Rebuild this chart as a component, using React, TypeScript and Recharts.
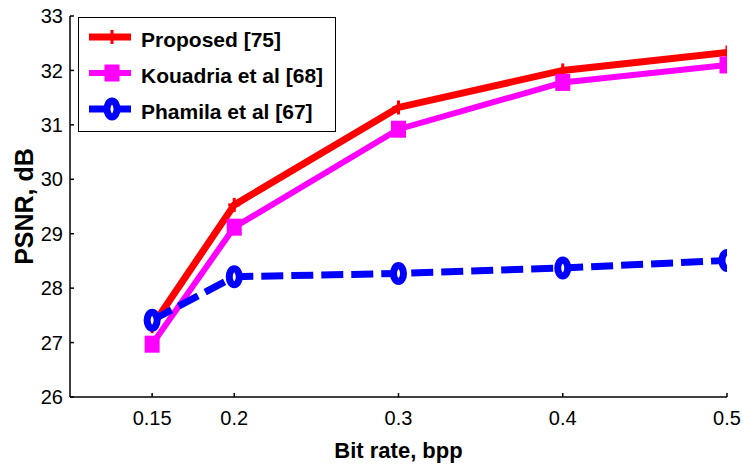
import React from 'react';
import { LineChart, Line, XAxis, YAxis, Legend } from 'recharts';

const bitRate = [0.15, 0.2, 0.3, 0.4, 0.5];
const proposed = [27.3, 29.53, 31.32, 32.0, 32.33];
const kouadria = [26.97, 29.12, 30.92, 31.78, 32.1];
const phamila = [27.41, 28.21, 28.27, 28.37, 28.51];
const yTicks = [26, 27, 28, 29, 30, 31, 32, 33];
const seriesOrder = ['proposed', 'kouadria', 'phamila'];

const data = bitRate.map((x, i) => ({
  x,
  proposed: proposed[i],
  kouadria: kouadria[i],
  phamila: phamila[i],
}));

const FONT = '"Liberation Sans", Arial, sans-serif';
const RED = '#ff0000';
const MAGENTA = '#ff00ff';
const BLUE = '#0000ff';

function Marker({ kind, cx, cy }: { kind: string; cx: number; cy: number }) {
  if (kind === 'plus') {
    return (
      <g>
        <line x1={cx - 6} y1={cy} x2={cx + 6} y2={cy} stroke={RED} strokeWidth={3} />
        <line x1={cx} y1={cy - 7} x2={cx} y2={cy + 7} stroke={RED} strokeWidth={3} />
      </g>
    );
  }
  if (kind === 'square') {
    return <rect x={cx - 7.5} y={cy - 8.5} width={15} height={17} fill={MAGENTA} />;
  }
  return <ellipse cx={cx} cy={cy} rx={5} ry={8} fill="#fff" stroke={BLUE} strokeWidth={7} />;
}

const markerOf: Record<string, string> = { proposed: 'plus', kouadria: 'square', phamila: 'circle' };

const dotFn = (kind: string) => (props: any) => {
  if (props.cx == null || props.cy == null) return <g key={props.index} />;
  return (
    <g key={props.index}>
      <Marker kind={kind} cx={props.cx} cy={props.cy} />
    </g>
  );
};

function renderLegend(props: any) {
  const items = [...(props.payload || [])].sort(
    (a: any, b: any) => seriesOrder.indexOf(a.dataKey) - seriesOrder.indexOf(b.dataKey)
  );
  return (
    <div
      style={{
        border: '1.5px solid #000',
        background: '#fff',
        padding: '3px 0 3px 0',
        boxSizing: 'border-box',
        width: 258,
        height: 115,
      }}
    >
      {items.map((it: any) => {
        const key = it.dataKey as string;
        return (
          <div key={key} style={{ display: 'flex', alignItems: 'center', height: 36 }}>
            <svg width={62} height={36} style={{ flexShrink: 0 }}>
              <line
                x1={10}
                y1={16}
                x2={52}
                y2={16}
                stroke={it.color}
                strokeWidth={key === 'kouadria' ? 6 : 7}
              />
              <Marker kind={markerOf[key]} cx={33} cy={16} />
            </svg>
            <span
              style={{
                fontFamily: FONT,
                fontWeight: 'bold',
                fontSize: 21,
                color: '#000',
                whiteSpace: 'nowrap',
                marginTop: 2,
              }}
            >
              {it.value}
            </span>
          </div>
        );
      })}
    </div>
  );
}

export default function App() {
  const axisStroke = { stroke: '#000', strokeWidth: 1.5 };
  const tickStyle = { fontSize: 20, fill: '#000', fontFamily: FONT };
  return (
    <div style={{ position: 'absolute', left: 0, top: 0, width: 743, height: 468, background: '#fff' }}>
      <LineChart width={743} height={468} data={data} margin={{ top: 16, right: 16, bottom: 0, left: 0 }}>
        <XAxis
          xAxisId="b"
          dataKey="x"
          type="number"
          domain={[0.1, 0.5]}
          allowDataOverflow
          ticks={bitRate}
          height={71}
          tickSize={-4}
          tickMargin={18}
          axisLine={axisStroke}
          tickLine={axisStroke}
          tick={tickStyle}
          interval={0}
          label={{
            value: 'Bit rate, bpp',
            position: 'insideBottom',
            offset: 10,
            style: { fontSize: 22, fontWeight: 'bold', fill: '#000', fontFamily: FONT },
          }}
        />
        <XAxis
          xAxisId="t"
          orientation="top"
          dataKey="x"
          type="number"
          domain={[0.1, 0.5]}
          allowDataOverflow
          ticks={bitRate}
          height={0}
          tickSize={-4}
          axisLine={axisStroke}
          tickLine={axisStroke}
          tick={false}
        />
        <YAxis
          yAxisId="l"
          type="number"
          domain={[26, 33]}
          allowDataOverflow
          ticks={yTicks}
          width={70}
          tickSize={-4}
          tickMargin={11}
          axisLine={axisStroke}
          tickLine={axisStroke}
          tick={tickStyle}
          interval={0}
          label={{
            value: 'PSNR, dB',
            angle: -90,
            position: 'insideLeft',
            offset: 24,
            style: { textAnchor: 'middle', fontSize: 25, fontWeight: 'bold', fill: '#000', fontFamily: FONT },
          }}
        />
        <YAxis
          yAxisId="r"
          orientation="right"
          type="number"
          domain={[26, 33]}
          allowDataOverflow
          ticks={yTicks}
          width={0}
          tickSize={-4}
          axisLine={axisStroke}
          tickLine={axisStroke}
          tick={false}
        />
        <Legend
          layout="vertical"
          align="center"
          verticalAlign="middle"
          content={renderLegend}
          wrapperStyle={{ position: 'absolute', left: 78, top: 17, width: 258, height: 115 }}
        />
        <Line
          xAxisId="b"
          yAxisId="l"
          type="linear"
          dataKey="proposed"
          name="Proposed [75]"
          stroke={RED}
          strokeWidth={7}
          dot={dotFn('plus')}
          activeDot={false}
          isAnimationActive={false}
        />
        <Line
          xAxisId="b"
          yAxisId="l"
          type="linear"
          dataKey="kouadria"
          name="Kouadria et al [68]"
          stroke={MAGENTA}
          strokeWidth={6}
          dot={dotFn('square')}
          activeDot={false}
          isAnimationActive={false}
        />
        <Line
          xAxisId="b"
          yAxisId="l"
          type="linear"
          dataKey="phamila"
          name="Phamila et al [67]"
          stroke={BLUE}
          strokeWidth={7}
          strokeDasharray="22 8"
          dot={dotFn('circle')}
          activeDot={false}
          isAnimationActive={false}
        />
      </LineChart>
    </div>
  );
}
